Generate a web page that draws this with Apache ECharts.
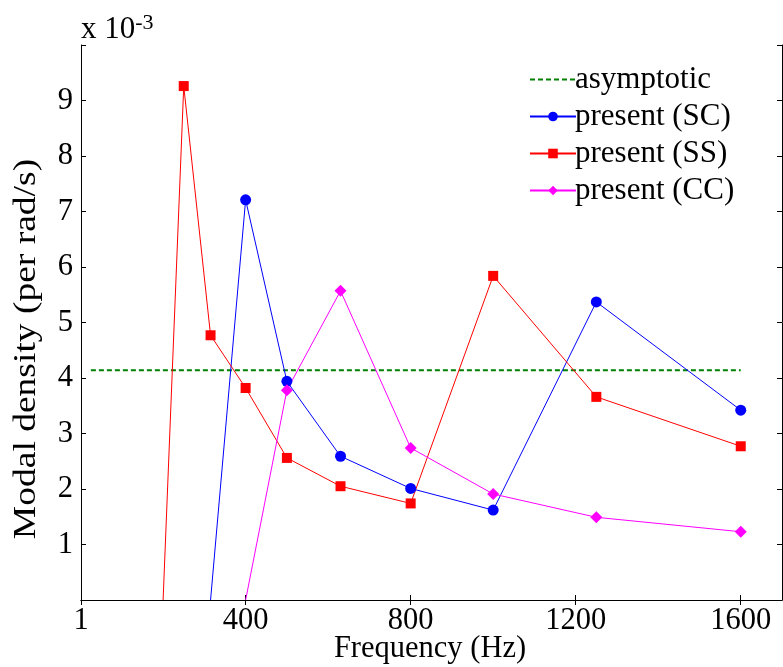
<!DOCTYPE html>
<html><head><meta charset="utf-8">
<script src="https://cdn.jsdelivr.net/npm/echarts@6/dist/echarts.min.js"></script>
<style>html,body{margin:0;padding:0;background:#fff}#c{width:783px;height:667px}</style>
</head><body><div id="c"></div>
<script>
const freqAsym = [25, 1600];
const asymValues = [4.14, 4.14];
const freqSC = [315, 400, 500, 630, 800, 1000, 1250, 1600];
const valSC  = [0, 7.21, 3.94, 2.59, 2.01, 1.62, 5.37, 3.42];
const freqSS = [200, 250, 315, 400, 500, 630, 800, 1000, 1250, 1600];
const valSS  = [0, 9.26, 4.77, 3.82, 2.56, 2.05, 1.74, 5.84, 3.66, 2.77];
const freqCC = [400, 500, 630, 800, 1000, 1250, 1600];
const valCC  = [0, 3.78, 5.57, 2.74, 1.91, 1.49, 1.23];
const xTicks = [1, 400, 800, 1200, 1600];
const yTicks = [1, 2, 3, 4, 5, 6, 7, 8, 9];

const FONT = 'Liberation Serif';
const FS = 30.5;
function pairs(xs, ys) {
  return xs.map((x, i) => ys[i] === 0 && i === 0 ? {value: [x, ys[i]], symbol: 'none'} : [x, ys[i]]);
}
const chart = echarts.init(document.getElementById('c'), null, {renderer: 'canvas'});
const axisCommon = {
  axisLine: {lineStyle: {color: '#000', width: 1}},
  splitLine: {show: false},
};
chart.setOption({
  animation: false,
  backgroundColor: '#fff',
  grid: {left: 81, top: 45, width: 701, height: 555, containLabel: false, outerBoundsMode: 'none'},
  xAxis: [{
    type: 'value', min: 1, max: 1700, position: 'bottom',
    ...axisCommon,
    axisTick: {inside: true, length: 5, customValues: xTicks, lineStyle: {color: '#000'}},
    axisLabel: {customValues: xTicks, color: '#000', fontFamily: FONT, fontSize: FS, margin: 5,
      formatter: v => String(v)}
  }, {
    type: 'value', min: 1, max: 1700, position: 'top',
    ...axisCommon,
    axisTick: {inside: true, length: 5, customValues: xTicks, lineStyle: {color: '#000'}},
    axisLabel: {show: false}
  }],
  yAxis: [{
    type: 'value', min: 0, max: 10, interval: 1, position: 'left',
    ...axisCommon,
    axisTick: {inside: true, length: 5, lineStyle: {color: '#000'}},
    axisLabel: {color: '#000', fontFamily: FONT, fontSize: FS, margin: 8,
      formatter: v => yTicks.includes(v) ? String(v) : ''}
  }, {
    type: 'value', min: 0, max: 10, interval: 1, position: 'right',
    ...axisCommon,
    axisTick: {inside: true, length: 5, lineStyle: {color: '#000'}},
    axisLabel: {show: false}
  }],
  legend: {
    orient: 'vertical', left: 524, top: 59, itemWidth: 46, itemHeight: 12, itemGap: 6,
    textStyle: {fontFamily: FONT, fontSize: 31, color: '#000', padding: [0, 0, 0, -6]},
    data: [{name: 'asymptotic', itemStyle: {opacity: 0}}, 'present (SC)', 'present (SS)', 'present (CC)']
  },
  graphic: [{
    type: 'text', left: 81, top: 12,
    style: {
      text: 'x 10{s|-3}', fontFamily: FONT, fontSize: 31, fill: '#000',
      rich: {s: {fontFamily: FONT, fontSize: 22, fill: '#000', verticalAlign: 'top', padding: [0, 0, 14, 0]}}
    }
  }, {
    type: 'text', x: 430, y: 649,
    style: {
      text: 'Frequency (Hz)', fontFamily: FONT, fontSize: FS, fill: '#000',
      textAlign: 'center', textVerticalAlign: 'middle'
    }
  }, {
    type: 'text', x: 27, y: 349, rotation: Math.PI / 2, scaleX: 1.23,
    style: {
      text: 'Modal density (per rad/s)', fontFamily: FONT, fontSize: FS, fill: '#000',
      textAlign: 'center', textVerticalAlign: 'middle'
    }
  }],
  series: [{
    name: 'asymptotic', type: 'line', data: freqAsym.map((x, i) => [x, asymValues[i]]),
    symbol: 'none', lineStyle: {color: '#008000', width: 1.8, type: [5, 3]}, itemStyle: {color: '#008000'}
  }, {
    name: 'present (SC)', type: 'line', data: pairs(freqSC, valSC),
    symbol: 'circle', symbolSize: 11, lineStyle: {color: '#0000ff', width: 1}, itemStyle: {color: '#0000ff'}
  }, {
    name: 'present (SS)', type: 'line', data: pairs(freqSS, valSS),
    symbol: 'rect', symbolSize: 10, lineStyle: {color: '#ff0000', width: 1}, itemStyle: {color: '#ff0000'}
  }, {
    name: 'present (CC)', type: 'line', data: pairs(freqCC, valCC),
    symbol: 'diamond', symbolSize: 12, lineStyle: {color: '#ff00ff', width: 1}, itemStyle: {color: '#ff00ff'}
  }]
});
</script></body></html>
